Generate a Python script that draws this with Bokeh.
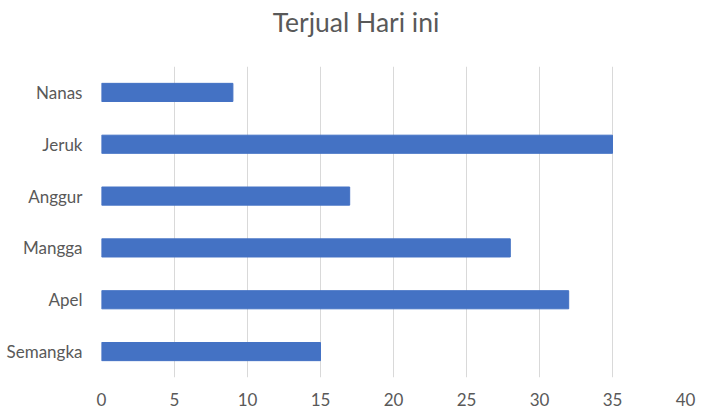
from bokeh.core.properties import value
from bokeh.embed import file_html
from bokeh.layouts import column
from bokeh.models import ColumnDataSource, FactorRange, Range1d, FixedTicker
from bokeh.plotting import figure
from bokeh.resources import INLINE

# Data (bottom to top).
fruits = ["Semangka", "Apel", "Mangga", "Anggur", "Jeruk", "Nanas"]
sold_today = [15, 32, 28, 17, 35, 9]
x_ticks = [0, 5, 10, 15, 20, 25, 30, 35, 40]
chart_title = "Terjual Hari ini"

FONT = "Lato"
TEXT_COLOR = "#595959"
WIDTH = 711
TITLE_HEIGHT = 50
BORDER_LEFT = 101
BORDER_RIGHT = 26

# Title strip: a bare figure holding only the centred heading.
# Its x range is in page pixels so the text centres on the whole chart.
header = figure(
    width=WIDTH, height=TITLE_HEIGHT,
    x_range=Range1d(BORDER_LEFT, WIDTH - BORDER_RIGHT), y_range=Range1d(0, TITLE_HEIGHT),
    min_border=0, min_border_left=BORDER_LEFT, min_border_right=BORDER_RIGHT,
    output_backend="svg", toolbar_location=None, outline_line_color=None,
)
header.axis.visible = False
header.grid.visible = False
header.text(x=[WIDTH / 2], y=[TITLE_HEIGHT - 21], text=[chart_title],
            text_align="center", text_baseline="alphabetic",
            text_font=value(FONT), text_font_size="26.5px", text_color=TEXT_COLOR)

source = ColumnDataSource(data=dict(fruit=fruits, sold=sold_today))

p = figure(
    y_range=FactorRange(*fruits, range_padding=0),
    x_range=Range1d(0, 40),
    frame_width=584,
    frame_height=311,
    min_border_left=BORDER_LEFT,
    min_border_right=BORDER_RIGHT,
    min_border_top=16,
    min_border_bottom=43,
    output_backend="svg",
    toolbar_location=None,
    outline_line_color=None,
)

p.hbar(y="fruit", right="sold", left=0, height=0.35, source=source,
       fill_color="#4472C4", line_color="#4472C4")

p.xaxis.ticker = FixedTicker(ticks=x_ticks)
for axis in (p.xaxis, p.yaxis):
    axis.axis_line_color = None
    axis.major_tick_line_color = None
    axis.minor_tick_line_color = None
    axis.major_label_text_font = FONT
    axis.major_label_text_font_size = "17px"
    axis.major_label_text_color = TEXT_COLOR
p.xaxis.major_label_standoff = 9
p.yaxis.major_label_standoff = 13

p.xgrid.grid_line_color = "#d9d9d9"
p.xgrid.grid_line_width = 1
p.ygrid.grid_line_color = None

open("out.html", "w").write(file_html(column(header, p, spacing=0), INLINE))
